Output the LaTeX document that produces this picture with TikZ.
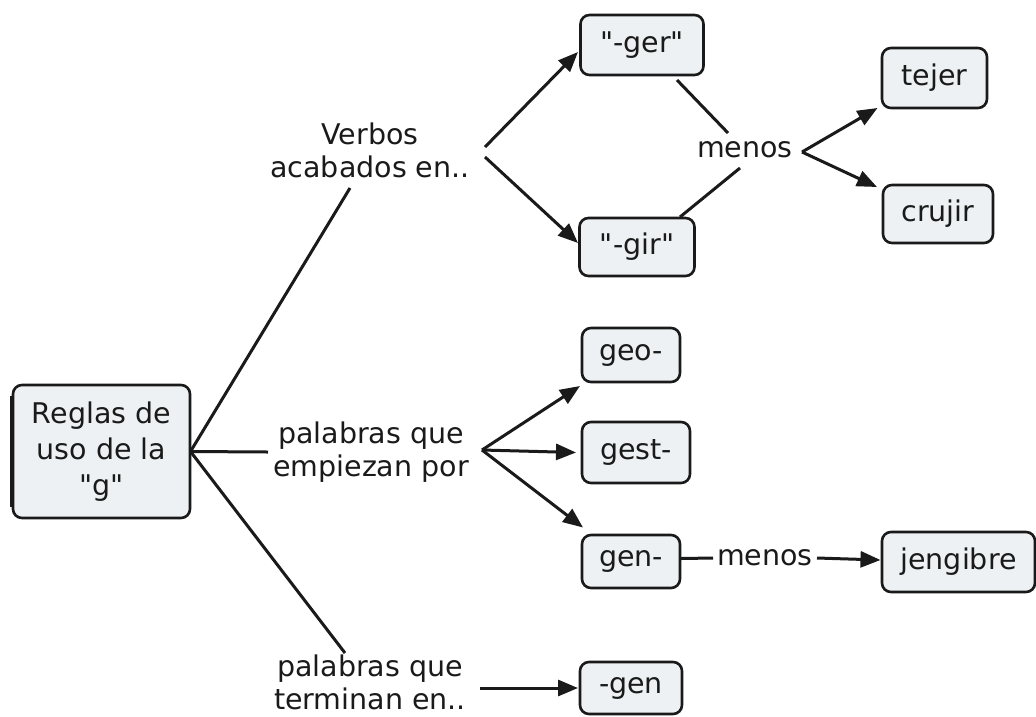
\documentclass[tikz,border=0pt]{standalone}
\usepackage{fontspec}
\setmainfont{DejaVu Sans}
\newfontfamily\dqfont{DejaVu Sans}
\usetikzlibrary{calc,arrows.meta}
\definecolor{boxfill}{HTML}{EDF1F3}
\definecolor{ink}{HTML}{1A1A1A}
\newcommand{\dq}{{\dqfont\symbol{34}}}
\begin{document}
\begin{tikzpicture}[x=1pt,y=-1pt,
  every node/.style={font=\fontsize{28.5}{33}\selectfont, text=ink},
  cbox/.style={draw=ink, line width=2.6pt, rounded corners=9pt, fill=boxfill,
    inner sep=0pt, align=center},
  lbl/.style={inner sep=2pt, align=center},
  conn/.style={draw=ink, line width=3pt},
  arr/.style={conn, -{Triangle[length=20pt,width=16pt]}}]
\useasboundingbox[fill=white] (0,0) rectangle (1036,716);
% boxes
\node[cbox, minimum width=177pt, minimum height=133pt,
  font=\fontsize{28.5}{36}\selectfont] (reglas) at (101.5,451.5) {Reglas de\\uso de la\\\dq g\dq};
\draw[ink, line width=3.5pt] ($(reglas.north west)+(0,12)$) -- ($(reglas.south west)+(0,-12)$);
\node[cbox, minimum width=123pt, minimum height=60pt] (ger) at (642,45) {\dq-ger\dq};
\node[cbox, minimum width=115pt, minimum height=58pt] (gir) at (637,247) {\dq-gir\dq};
\node[cbox, minimum width=105pt, minimum height=60pt] (tejer) at (934.5,78) {tejer};
\node[cbox, minimum width=110pt, minimum height=58pt] (crujir) at (938,214) {crujir};
\node[cbox, minimum width=98pt, minimum height=54pt] (geo) at (631,355) {geo-};
\node[cbox, minimum width=108pt, minimum height=61pt] (gest) at (636,452.5) {gest-};
\node[cbox, minimum width=98pt, minimum height=53pt] (gen) at (631,561.5) {gen-};
\node[cbox, minimum width=153pt, minimum height=60pt] (jengibre) at (958.5,562) {jengibre};
\node[cbox, minimum width=102pt, minimum height=52pt] (mgen) at (631,688) {-gen};
% labels
\node[lbl] (verbos) at (370,150) {Verbos\\acabados en..};
\node[lbl] (menos1) at (745,150) {menos};
\node[lbl] (empiezan) at (371,452) {palabras que\\empiezan por};
\node[lbl] (menos2) at (765,558) {menos};
\node[lbl, inner sep=0pt] (terminan) at (370,682) {palabras que\\terminan en..};
% connectors
\draw[conn] ($(reglas)+(89,0)$) -- ($(verbos)+(-20,38)$);
\draw[conn] ($(reglas)+(89,0)$) -- ($(empiezan)+(-103,0)$);
\draw[conn] ($(reglas)+(89,0)$) -- ($(terminan)+(-25,-29)$);
\draw[arr] ($(verbos)+(115,-3)$) -- ($(ger)+(-64,7)$);
\draw[arr] ($(verbos)+(115,7)$) -- ($(gir)+(-59,-4)$);
\draw[conn] ($(ger)+(35,35)$) -- ($(menos1)+(-17,-17)$);
\draw[conn] ($(gir)+(43,-30)$) -- ($(menos1)+(-5,18)$);
\draw[arr] ($(menos1)+(57,2)$) -- ($(tejer)+(-57,30)$);
\draw[arr] ($(menos1)+(57,2)$) -- ($(crujir)+(-61,-27)$);
\draw[arr] ($(empiezan)+(111,-2)$) -- ($(geo)+(-51,31)$);
\draw[arr] ($(empiezan)+(111,-2)$) -- ($(gest)+(-60,0)$);
\draw[arr] ($(empiezan)+(111,-2)$) -- ($(gen)+(-48,-34)$);
\draw[conn] ($(gen)+(50,-3)$) -- ($(menos2)+(-52,0)$);
\draw[arr] ($(menos2)+(52,0)$) -- ($(jengibre)+(-78,-2)$);
\draw[arr] ($(terminan)+(110,6)$) -- ($(mgen)+(-53,0)$);
\end{tikzpicture}
\end{document}
